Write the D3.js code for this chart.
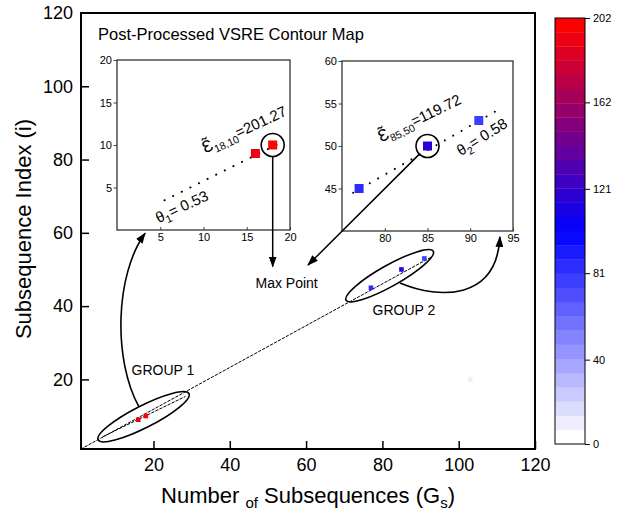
<!DOCTYPE html>
<html>
<head>
<meta charset="utf-8">
<script src="https://cdn.jsdelivr.net/npm/d3@7"></script>
<style>
  body { margin: 0; background: #fff; }
  svg { font-family: "Liberation Sans", Arial, sans-serif; }
</style>
</head>
<body>
<svg id="chart" width="635" height="516"></svg>
<script>
// -------------------------
// Data
// -------------------------
const pointX = [16, 18, 77, 85, 91, 103];
const pointY = [9, 10, 45, 50, 53, 20];
const pointValue = [190, 201.27, 85, 119.72, 75, 10];
const group1 = [0, 1];
const group2 = [2, 3, 4];

const mainTicks = [20, 40, 60, 80, 100, 120];
const inset1Ticks = [5, 10, 15, 20];
const inset2XTicks = [80, 85, 90, 95];
const inset2YTicks = [45, 50, 55, 60];
const colorTicks = [0, 40, 81, 121, 162, 202];
const colorMax = 202;
const nLevels = 30;

// fitted / trend lines (data units)
const trendLine = [[1, 1], [93, 53.5]];
const group1LineMain = [[6.8, 4.4], [28.3, 15.3]];
const group1Line = [[5.5, 3.5], [19.4, 10.5]];
const group2Line = [[76.3, 44.5], [93, 54.1]];

// annotations (main data units)
const ellipse1 = {cx: 17.4, cy: 9.8, rx: 51, ry: 11, angle: -27};
const ellipse2 = {cx: 81.9, cy: 48.3, rx: 50, ry: 10.5, angle: -29.3};
const curve1 = [[16.2, 12.5], [9.4, 25.3], [9.9, 48.5], [17.8, 59.9]];
const curve2 = [[84.6, 46.3], [95.1, 41.7], [110, 41.7], [110.8, 58.9]];
const maxPoint = [54.9, 46.3];
const tipDown = 50.8;          // y of vertical arrow tip
const tipDiag = [60.5, 51.2];

// -------------------------
// Scales
// -------------------------
const svg = d3.select("#chart");
const x = d3.scaleLinear().domain([1, 120]).range([81, 535]);
const y = d3.scaleLinear().domain([1, 120]).range([449, 13]);
const x1 = d3.scaleLinear().domain([0, 20]).range([117, 290]);
const y1 = d3.scaleLinear().domain([0, 20]).range([230, 60]);
const x2 = d3.scaleLinear().domain([75, 95]).range([342, 513]);
const y2 = d3.scaleLinear().domain([40, 60]).range([231, 61]);
const cScale = d3.scaleLinear().domain([0, colorMax]).range([444, 18]);

const palette = d3.piecewise(d3.interpolateRgb, ["#ffffff", "#0000ff", "#ff0000"]);
const step = colorMax / nLevels;
function levelColor(v) {
    const idx = Math.min(nLevels - 1, Math.floor(v / step));
    return palette(idx / (nLevels - 1));
}

// arrow marker
svg.append("defs").append("marker")
    .attr("id", "arrow")
    .attr("markerUnits", "userSpaceOnUse")
    .attr("markerWidth", 11).attr("markerHeight", 8)
    .attr("refX", 10).attr("refY", 4)
    .attr("orient", "auto")
    .append("path").attr("d", "M0,0 L11,4 L0,8 Z").attr("fill", "#000");

// -------------------------
// Main axes
// -------------------------
const gx = svg.append("g").attr("transform", "translate(0,449)")
    .call(d3.axisBottom(x).tickValues(mainTicks).tickSize(-8).tickSizeOuter(0).tickPadding(9).tickFormat(d3.format("d")));
const gy = svg.append("g").attr("transform", "translate(81,0)")
    .call(d3.axisLeft(y).tickValues(mainTicks.slice(0, -1)).tickSize(-8).tickSizeOuter(0).tickPadding(8).tickFormat(d3.format("d")));
[gx, gy].forEach(g => {
    g.select(".domain").remove();
    g.selectAll("line").attr("stroke", "#000").attr("stroke-width", 1.5);
    g.selectAll("text").attr("font-size", 18).attr("fill", "#000").attr("font-family", null);
});
svg.append("text").attr("x", 73).attr("y", y(120)).attr("dy", "0.35em")
    .attr("text-anchor", "end").attr("font-size", 18).text("120");

svg.append("rect").attr("x", 81).attr("y", 13).attr("width", 454).attr("height", 436)
    .attr("fill", "none").attr("stroke", "#000").attr("stroke-width", 2);

// axis titles
svg.append("text").attr("transform", "translate(31,229) rotate(-90)")
    .attr("text-anchor", "middle").attr("font-size", 22).text("Subsequence Index (i)");
const xt = svg.append("text").attr("x", 308).attr("y", 503)
    .attr("text-anchor", "middle").attr("font-size", 22);
xt.append("tspan").text("Number ");
xt.append("tspan").attr("font-size", 15).attr("dy", 5).text("of");
xt.append("tspan").attr("dy", -5).text(" Subsequences (G");
xt.append("tspan").attr("font-size", 15).attr("dy", 5).text("s");
xt.append("tspan").attr("dy", -5).text(")");

// -------------------------
// Main plot marks
// -------------------------
const line = d3.line();
function dashed(pts, sx, sy, dash, w) {
    svg.append("path")
        .attr("d", line(pts.map(p => [sx(p[0]), sy(p[1])])))
        .attr("fill", "none").attr("stroke", "#000")
        .attr("stroke-width", w).attr("stroke-dasharray", dash)
        .attr("stroke-linecap", "round");
}
dashed(trendLine, x, y, "2.5,2", 1);
dashed(group1LineMain, x, y, "2.5,2", 1);

[ellipse1, ellipse2].forEach(e => {
    svg.append("ellipse")
        .attr("transform", `translate(${x(e.cx)},${y(e.cy)}) rotate(${e.angle})`)
        .attr("rx", e.rx).attr("ry", e.ry)
        .attr("fill", "none").attr("stroke", "#000").attr("stroke-width", 1.6);
});

svg.append("g").selectAll("rect")
    .data(pointX.map((d, i) => i))
    .join("rect")
    .attr("x", i => x(pointX[i]) - 2.3).attr("y", i => y(pointY[i]) - 2.3)
    .attr("width", 4.6).attr("height", 4.6)
    .attr("fill", i => levelColor(pointValue[i]));

[curve1, curve2].forEach(c => {
    const p = c.map(d => [x(d[0]), y(d[1])]);
    svg.append("path")
        .attr("d", `M${p[0]}C${p[1]} ${p[2]} ${p[3]}`)
        .attr("fill", "none").attr("stroke", "#000").attr("stroke-width", 1.6)
        .attr("marker-end", "url(#arrow)");
});

svg.append("text").attr("x", 163).attr("y", 375).attr("text-anchor", "middle")
    .attr("font-size", 14).text("GROUP 1");
svg.append("text").attr("x", 404).attr("y", 315).attr("text-anchor", "middle")
    .attr("font-size", 14).text("GROUP 2");
svg.append("text").attr("x", x(maxPoint[0])).attr("y", y(maxPoint[1])).attr("dy", "0.35em")
    .attr("text-anchor", "middle").attr("font-size", 14).text("Max Point");

svg.append("text").attr("x", 98).attr("y", 39.5).attr("font-size", 16.5)
    .text("Post-Processed VSRE Contour Map");

// -------------------------
// Insets
// -------------------------
function inset(sx, sy, xt, yt) {
    const [l, r] = sx.range(), [b, t] = sy.range();
    svg.append("rect").attr("x", l).attr("y", t).attr("width", r - l).attr("height", b - t)
        .attr("fill", "#fff");
    const ax = svg.append("g").attr("transform", `translate(0,${b})`)
        .call(d3.axisBottom(sx).tickValues(xt).tickSize(-3).tickSizeOuter(0).tickPadding(3));
    const ay = svg.append("g").attr("transform", `translate(${l},0)`)
        .call(d3.axisLeft(sy).tickValues(yt).tickSize(3.5).tickSizeOuter(0).tickPadding(1.5));
    [ax, ay].forEach(g => {
        g.select(".domain").remove();
        g.selectAll("line").attr("stroke", "#444");
        g.selectAll("text").attr("font-size", 11).attr("fill", "#000").attr("font-family", null);
    });
    svg.append("rect").attr("x", l).attr("y", t).attr("width", r - l).attr("height", b - t)
        .attr("fill", "none").attr("stroke", "#333").attr("stroke-width", 1.3);
}
inset(x1, y1, inset1Ticks, inset1Ticks);
inset(x2, y2, inset2XTicks, inset2YTicks);

dashed(group1Line, x1, y1, "0.1,9.5", 2);
dashed(group2Line, x2, y2, "0.1,9.5", 2);

function insetPoints(idx, sx, sy) {
    svg.append("g").selectAll("rect")
        .data(idx)
        .join("rect")
        .attr("x", i => sx(pointX[i]) - 4.5).attr("y", i => sy(pointY[i]) - 4.5)
        .attr("width", 9).attr("height", 9)
        .attr("fill", i => levelColor(pointValue[i]));
}
insetPoints(group1, x1, y1);
insetPoints(group2, x2, y2);

// max point circles + arrows
const c1 = [x1(pointX[1]), y1(pointY[1])];
const c2 = [x2(pointX[3]), y2(pointY[3])];
const R = 11.5;
[c1, c2].forEach(c => {
    svg.append("circle").attr("cx", c[0]).attr("cy", c[1]).attr("r", R)
        .attr("fill", "none").attr("stroke", "#000").attr("stroke-width", 1.6);
});
function arrow(from, to) {
    svg.append("line").attr("x1", from[0]).attr("y1", from[1]).attr("x2", to[0]).attr("y2", to[1])
        .attr("stroke", "#000").attr("stroke-width", 1.5).attr("marker-end", "url(#arrow)");
}
arrow([c1[0], c1[1] + R], [c1[0], y(tipDown)]);
const t2 = [x(tipDiag[0]), y(tipDiag[1])];
const dx = t2[0] - c2[0], dy = t2[1] - c2[1], dl = Math.hypot(dx, dy);
arrow([c2[0] + dx / dl * R, c2[1] + dy / dl * R], t2);

// rotated labels
function label(px, py, angle, sym, sub, rest) {
    const t = svg.append("text").attr("transform", `translate(${px},${py}) rotate(${angle})`)
        .attr("font-size", 15);
    t.append("tspan").attr("font-size", sym === "\u0190\u0303" ? 17 : 15).text(sym);
    t.append("tspan").attr("font-size", 10.5).attr("dy", 4).text(sub);
    t.append("tspan").attr("dy", -4).text(rest);
}
label(x1(10.2), y1(9.0), -25, "\u0190\u0303", "18,10", "=201.27");
label(x1(4.8), y1(0.8), -25, "\u03b8", "1", "= 0.53");
label(x2(79.6), y2(50.4), -26, "\u0190\u0303", "85,50", "=119.72");
label(x2(88.9), y2(48.8), -32, "\u03b8", "2", "= 0.58");

// -------------------------
// Colour bar
// -------------------------
const bands = d3.range(nLevels);
svg.append("g").selectAll("rect")
    .data(bands)
    .join("rect")
    .attr("x", 555).attr("width", 30)
    .attr("y", i => cScale((i + 1) * step))
    .attr("height", i => cScale(i * step) - cScale((i + 1) * step) + 0.3)
    .attr("fill", i => palette(i / (nLevels - 1)));
svg.append("rect").attr("x", 555).attr("y", cScale(colorMax)).attr("width", 30)
    .attr("height", cScale(0) - cScale(colorMax))
    .attr("fill", "none").attr("stroke", "#000").attr("stroke-width", 1);
const gc = svg.append("g").attr("transform", "translate(585,0)")
    .call(d3.axisRight(cScale).tickValues(colorTicks).tickSize(5).tickSizeOuter(0).tickPadding(3));
gc.select(".domain").remove();
gc.selectAll("line").attr("stroke", "#000");
gc.selectAll("text").attr("font-size", 11).attr("fill", "#000").attr("font-family", null);
</script>
</body>
</html>
